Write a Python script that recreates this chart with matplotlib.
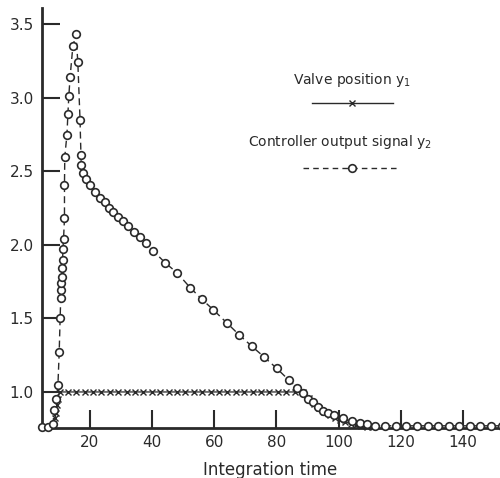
import matplotlib
matplotlib.use("Agg")
import matplotlib.pyplot as plt
from matplotlib.lines import Line2D

# Controller output signal y2 (circles, dashed)
y2_x = [4.6, 6.5, 8.1, 8.5, 9.2, 9.7, 10.1, 10.4, 10.6, 10.7,
        10.8, 10.9, 11.1, 11.2, 11.3, 11.5, 11.8, 11.8, 11.9, 12.6,
        12.9, 13.2, 13.6, 14.5, 15.5, 16.1, 16.8, 17.1, 17.2, 17.8,
        18.7, 20.0, 21.6, 23.2, 24.8, 26.1, 27.4, 29.0, 30.6, 32.2,
        34.2, 36.1, 38.0, 40.3, 44.1, 48.0, 52.2, 56.0, 59.6, 64.0,
        67.9, 72.1, 75.9, 80.1, 84.0, 86.6, 88.5, 90.1, 91.7, 93.3,
        94.9, 96.5, 98.5, 101.4, 104.2, 106.8, 109.0, 111.6, 115.0, 118.4,
        121.8, 125.2, 128.6, 132.0, 135.4, 138.8, 142.2, 145.6, 149.0, 152.4]
y2_y = [0.76, 0.76, 0.78, 0.88, 0.95, 1.05, 1.27, 1.50, 1.64, 1.69,
        1.74, 1.78, 1.84, 1.90, 1.97, 2.04, 2.18, 2.41, 2.60, 2.75,
        2.89, 3.01, 3.14, 3.35, 3.43, 3.24, 2.85, 2.61, 2.54, 2.49,
        2.45, 2.41, 2.36, 2.32, 2.29, 2.25, 2.22, 2.19, 2.16, 2.13,
        2.09, 2.05, 2.01, 1.96, 1.88, 1.81, 1.71, 1.63, 1.56, 1.47,
        1.39, 1.31, 1.24, 1.16, 1.08, 1.03, 0.99, 0.95, 0.93, 0.90,
        0.87, 0.86, 0.84, 0.82, 0.80, 0.79, 0.78, 0.77, 0.77, 0.77,
        0.77, 0.77, 0.77, 0.77, 0.77, 0.77, 0.77, 0.77, 0.77, 0.77]

# Valve position y1 (crosses, solid)
y1_x = [4.6, 6.5, 8.0, 8.8, 9.1, 9.4, 9.7, 10.2, 12.9, 15.6,
        18.3, 21.0, 23.7, 26.4, 29.1, 31.8, 34.5, 37.2, 39.9, 42.6,
        45.3, 48.0, 50.7, 53.4, 56.1, 58.8, 61.5, 64.2, 66.9, 69.6,
        72.3, 75.0, 77.7, 80.4, 83.1, 85.8, 88.5, 90.3, 92.0, 93.7,
        95.4, 97.1, 98.8, 100.5, 102.2, 103.9, 105.6, 107.3, 109.0, 111.0]
y1_y = [0.76, 0.76, 0.78, 0.82, 0.86, 0.91, 0.95, 1.00, 1.00, 1.00,
        1.00, 1.00, 1.00, 1.00, 1.00, 1.00, 1.00, 1.00, 1.00, 1.00,
        1.00, 1.00, 1.00, 1.00, 1.00, 1.00, 1.00, 1.00, 1.00, 1.00,
        1.00, 1.00, 1.00, 1.00, 1.00, 1.00, 1.00, 0.96, 0.92, 0.89,
        0.865, 0.845, 0.825, 0.81, 0.795, 0.785, 0.775, 0.768, 0.762, 0.76]

x_ticks = [20, 40, 60, 80, 100, 120, 140]
y_ticks = [1.0, 1.5, 2.0, 2.5, 3.0, 3.5]
x_label = "Integration time"
legend_y1 = r"Valve position y$_1$"
legend_y2 = r"Controller output signal y$_2$"

W, H = 500, 478
fig = plt.figure(figsize=(W / 100, H / 100), dpi=100)
ax = fig.add_axes([42 / W, 1 - 428 / H, 1 - 42 / W, (428 - 8) / H])
ink = "#2a2a2a"

ax.plot(y1_x, y1_y, color=ink, lw=0.9, ls="-", marker="x", ms=4.5, mew=1.0, clip_on=False, zorder=3)
ax.plot(y2_x, y2_y, color=ink, lw=1.0, ls=(0, (5, 3)), marker="o", ms=5.5, mfc="white",
        mec=ink, mew=1.2, clip_on=False, zorder=4)

ax.set_xlim(4.57, 151.9)
ax.set_ylim(0.755, 3.61)
ax.set_xticks(x_ticks)
ax.set_yticks(y_ticks)
ax.set_yticklabels([f"{v:.1f}" for v in y_ticks])
ax.tick_params(direction="in", length=13, width=1.5, color=ink, labelsize=11, labelcolor=ink, pad=5)
ax.tick_params(axis="y", pad=6)
for s in ["top", "right"]:
    ax.spines[s].set_visible(False)
for s in ["left", "bottom"]:
    ax.spines[s].set_linewidth(2.0)
    ax.spines[s].set_color(ink)
ax.set_xlabel(x_label, fontsize=12, color=ink)
ax.xaxis.set_label_coords((270 - 42) / (W - 42), -0.078)

# legend drawn in figure pixel coordinates
def fx(px):
    return px / W

def fy(py):
    return 1 - py / H

fig.text(fx(352), fy(80), legend_y1, ha="center", va="center", fontsize=10, color=ink)
fig.add_artist(Line2D([fx(312), fx(393)], [fy(103), fy(103)], color=ink, lw=1.0))
fig.add_artist(Line2D([fx(352)], [fy(103)], color=ink, marker="x", ms=4, mew=1.0, ls="none"))
fig.text(fx(248), fy(142), legend_y2, ha="left", va="center", fontsize=10, color=ink)
fig.add_artist(Line2D([fx(303), fx(397)], [fy(168), fy(168)], color=ink, lw=1.0, ls=(0, (4, 3))))
fig.add_artist(Line2D([fx(352)], [fy(168)], color=ink, marker="o", ms=5.5, mfc="white",
                      mec=ink, mew=1.2, ls="none"))

fig.savefig("out.png", dpi=100)
